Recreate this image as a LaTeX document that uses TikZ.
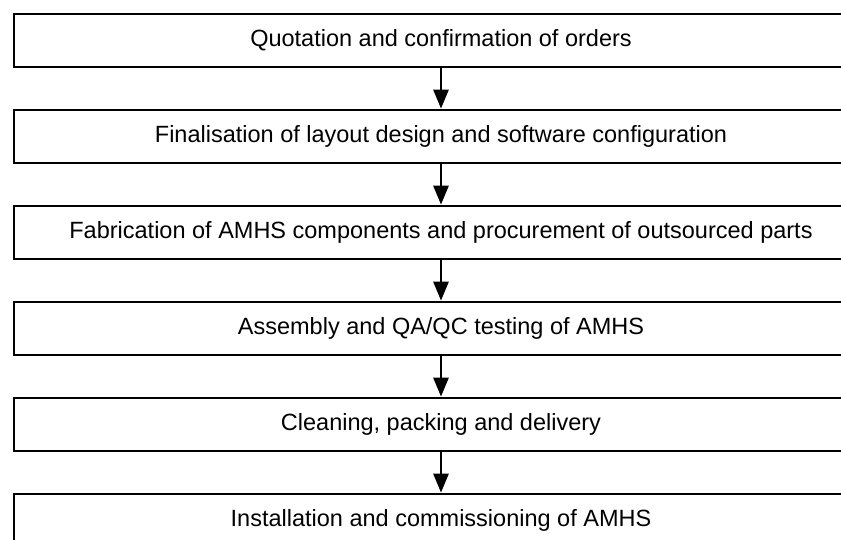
\documentclass[tikz,border=0pt]{standalone}
\usepackage{fontspec}
\setmainfont{Liberation Sans}
\usetikzlibrary{arrows.meta}

\begin{document}
\begin{tikzpicture}[
  x=1pt, y=-1pt,
  stage/.style={
    draw, line width=2.7pt, minimum width=854pt, minimum height=53pt,
    inner sep=0pt, font=\fontsize{23.5}{28}\selectfont, align=center
  },
  conn/.style={-{Triangle[length=19pt, width=15pt]}, line width=2.7pt}
]
\clip (0,0) rectangle (841,540);

% ============ process stages (top -> bottom) ============
\node[stage] (quote)   at (441,40.5)  {Quotation and confirmation of orders};
\node[stage] (layout)  at (441,136.5) {Finalisation of layout design and software configuration};
\node[stage] (fab)     at (441,232.5) {Fabrication of AMHS components and procurement of outsourced parts};
\node[stage] (assy)    at (441,328.5) {Assembly and QA/QC testing of AMHS};
\node[stage] (clean)   at (441,424.5) {Cleaning, packing and delivery};
\node[stage] (install) at (441,520.5) {Installation and commissioning of AMHS};

% ============ connections ============
\foreach \a/\b in {quote/layout, layout/fab, fab/assy, assy/clean, clean/install}{
  \draw[conn] (\a.south) -- (\b.north);
}

\end{tikzpicture}
\end{document}
